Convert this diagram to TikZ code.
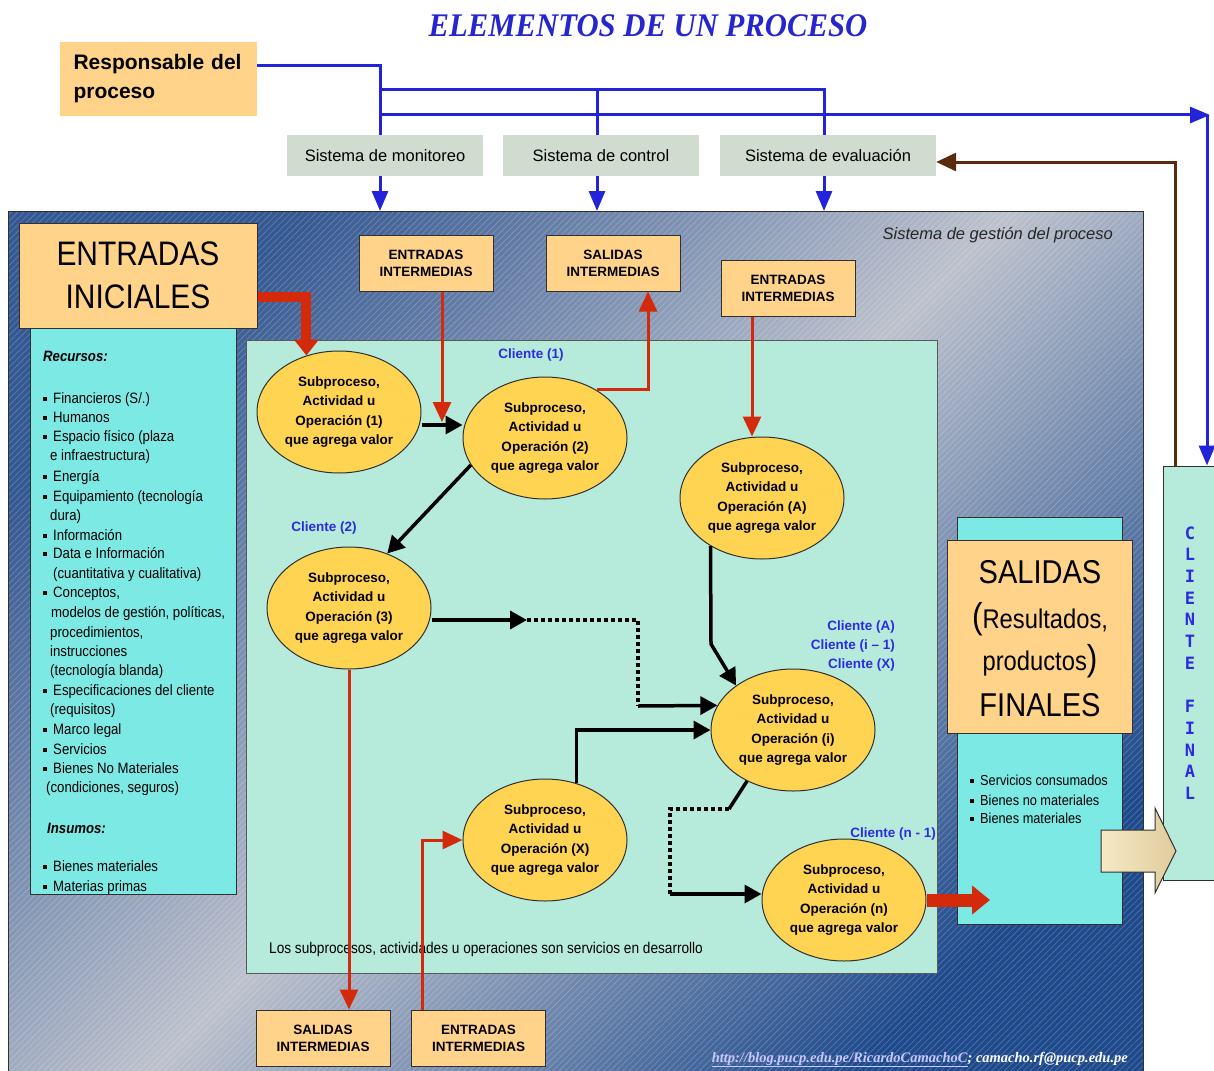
\documentclass[tikz,border=0pt]{standalone}
\usepackage{fontspec}
\setmainfont{Liberation Sans}
\newfontfamily\condfont[FakeStretch=0.88]{Liberation Sans}
\newfontfamily\titlef[FakeStretch=0.93]{Liberation Serif}
\newfontfamily\serifbi{Liberation Serif}
\newfontfamily\monob{DejaVu Sans Mono}
\usetikzlibrary{shapes.geometric, arrows.meta, patterns.meta, calc}
\pgfdeclarelayer{back}
\pgfsetlayers{back,main}

\definecolor{orng}{HTML}{FFD38A}
\definecolor{cyanbox}{HTML}{7DE9E5}
\definecolor{mint}{HTML}{B6EBDC}
\definecolor{yel}{HTML}{FFD452}
\definecolor{redA}{HTML}{D42A0C}
\definecolor{blueL}{HTML}{2323D9}
\definecolor{blueT}{HTML}{2B2BE0}
\definecolor{titleblue}{HTML}{2626CF}
\definecolor{brownA}{HTML}{5B2A0C}
\definecolor{sysg}{HTML}{CFDCCF}
\definecolor{bgtl}{HTML}{345892}
\definecolor{bgbr}{HTML}{1E4A8C}
\definecolor{bggray}{HTML}{BCC1CC}
\definecolor{edge}{HTML}{303030}
\definecolor{linkc}{HTML}{C8C8FF}
\definecolor{beigeL}{HTML}{F5E9C6}
\definecolor{beigeR}{HTML}{E0CC9C}

\newcommand\fsz[2]{\fontsize{#1}{#2}\selectfont}
\newcommand\bul{\makebox[10pt][l]{\rule[2pt]{3.6pt}{3.6pt}}}
\newcommand\proctext[1]{Subproceso,\\Actividad u\\Operación (#1)\\que agrega valor}

\tikzset{
  obox/.style={draw=edge, line width=1pt, fill=orng, inner sep=0pt},
  inter/.style={obox, minimum width=134pt, minimum height=56pt, align=center,
    font=\bfseries\fsz{13.5}{17}},
  sysbox/.style={fill=sysg, minimum height=41pt, inner sep=0pt, font=\fsz{16.5}{20}},
  cyanp/.style={draw=edge, line width=1pt, fill=cyanbox, inner sep=0pt},
  proc/.style={ellipse, draw=edge, line width=1pt, fill=yel, minimum width=164pt,
    minimum height=122pt, inner sep=0pt, align=center, font=\bfseries\fsz{13.5}{19.5}},
  cli/.style={inner sep=0pt, text=blueT, font=\bfseries\fsz{13.5}{16}},
  listtxt/.style={anchor=base west, inner sep=0pt, font=\condfont\fsz{15}{15}},
  bl/.style={draw=blueL, line width=3pt, -{Triangle[length=20pt,width=16pt]}},
  brn/.style={draw=brownA, line width=3pt, -{Triangle[length=20pt,width=18pt]}},
  redthin/.style={draw=redA, line width=3pt, -{Triangle[length=20pt,width=18pt]}},
  redthickA/.style={draw=redA, line width=10pt, -{Triangle[length=16pt,width=24pt]}},
  redthickB/.style={draw=redA, line width=13pt, -{Triangle[length=18pt,width=28pt]}},
  blk/.style={draw=black, line width=3.5pt, -{Triangle[length=17pt,width=18pt]}},
  blkline/.style={draw=black, line width=3.5pt},
  dots/.style={draw=black, line width=3.5pt, dash pattern=on 4pt off 3pt},
}

\begin{document}
\begin{tikzpicture}[x=1pt,y=-1pt]
\useasboundingbox (0,0) rectangle (1214,1070);

% process management frame
\node[inner sep=0pt, minimum width=1134pt, minimum height=866pt] (gest) at (576,645) {};
\begin{pgfonlayer}{back}
  \path[top color=bgtl, bottom color=bgbr, middle color=bggray, shading angle=45]
    (gest.north west) rectangle (gest.south east);
  \path[pattern={Lines[angle=45,distance=4.5pt,line width=0.8pt]}, pattern color=white, opacity=0.2]
    (gest.north west) rectangle (gest.south east);
  \draw[edge, line width=1.2pt] (gest.south west) |- (gest.north east) -- (gest.south east);
\end{pgfonlayer}

% title
\node[anchor=base, inner sep=0pt, text=titleblue, font=\titlef\bfseries\itshape\fsz{33}{33}]
  (title) at (648,37) {ELEMENTOS DE UN PROCESO};

% owner and the three systems
\node[fill=orng, minimum width=197pt, minimum height=74pt, text width=170pt, align=left,
  inner sep=0pt, font=\bfseries\fsz{21}{29}] (resp) at (158.5,79) {Responsable del\\proceso};
\node[sysbox, minimum width=196pt] (mon) at (385,155.5) {Sistema de monitoreo};
\node[sysbox, minimum width=196pt] (ctl) at (601,155.5) {Sistema de control};
\node[sysbox, minimum width=216pt] (evl) at (828,155.5) {Sistema de evaluación};

% final client
\node[draw=edge, line width=1pt, fill=mint, minimum width=57pt, minimum height=414pt, inner sep=0pt]
  (cf) at (1191.5,673) {};
\node[inner sep=0pt, align=center, text=blueT, font=\monob\bfseries\fsz{17}{21.7}]
  (cft) at (1190,663) {C\\L\\I\\E\\N\\T\\E\\\mbox{}\\F\\I\\N\\A\\L};

% control lines from the process owner
\coordinate (vm) at (380,211);
\coordinate (vc) at (597,211);
\coordinate (ve) at (824,211);
\coordinate (j1) at (380,90);
\coordinate (j2) at (380,115);
\coordinate (cr) at (1210,115);
\coordinate (cr2) at (1207,115);
\begin{pgfonlayer}{back}
  \draw[bl] ([yshift=13pt]resp.east) -| (vm);
  \draw[bl] (j1) -| (ve);
  \draw[bl] (j1 -| vc) -- (vc);
  \draw[bl] (j2) -- (cr);
  \draw[bl] (cr2) -- (cr2 |- cf.north);
\end{pgfonlayer}
\draw[brn] ([xshift=-16.5pt]cf.north) |- ([yshift=-6.5pt]evl.east);

\node[anchor=base east, inner sep=0pt, text=black!85, font=\itshape\fsz{16.5}{16.5}]
  (gtxt) at (1113,239) {Sistema de gestión del proceso};

% initial inputs
\node[cyanp, minimum width=206pt, minimum height=568pt] (lst) at (133,610) {};
\node[obox, minimum width=238pt, minimum height=105pt, align=center, font=\condfont\fsz{34}{43}]
  (ein) at (138,275.5) {ENTRADAS\\INICIALES};
\node[listtxt, font=\condfont\bfseries\itshape\fsz{15}{15}] (rec) at (43,361) {Recursos:};
\foreach \yy/\xx/\tx [count=\i] in {
  403/43/{\bul Financieros (S/.)},
  422/43/{\bul Humanos},
  441/43/{\bul Espacio físico (plaza},
  460/50/{e infraestructura)},
  481/43/{\bul Energía},
  501/43/{\bul Equipamiento (tecnología},
  520/50/{dura)},
  540/43/{\bul Información},
  558/43/{\bul Data e Información},
  578/53/{(cuantitativa y cualitativa)},
  597/43/{\bul Conceptos,},
  617/51/{modelos de gestión, políticas,},
  637/50/{procedimientos,},
  656/50/{instrucciones},
  675/50/{(tecnología blanda)},
  695/43/{\bul Especificaciones del cliente},
  714/50/{(requisitos)},
  734/43/{\bul Marco legal},
  754/43/{\bul Servicios},
  773/43/{\bul Bienes No Materiales},
  792/46/{(condiciones, seguros)},
  871/43/{\bul Bienes materiales},
  891/43/{\bul Materias primas}}
  \node[listtxt] (rl\i) at (\xx,\yy) {\tx};
\node[listtxt, font=\condfont\bfseries\itshape\fsz{15}{15}] (ins) at (47,833) {Insumos:};

% process area
\node[draw=edge!80, line width=1pt, fill=mint, minimum width=691pt, minimum height=633pt, inner sep=0pt]
  (cen) at (591.5,656.5) {};

% final outputs
\node[cyanp, minimum width=165pt, minimum height=407pt] (scy) at (1039.5,720.5) {};
\node[obox, minimum width=185pt, minimum height=193pt] (sfin) at (1039.5,636.5) {};
\node[anchor=base, inner sep=0pt, font=\condfont\fsz{33}{33}] (sf1) at (1040,583) {SALIDAS};
\node[anchor=base, inner sep=0pt, font=\condfont\fsz{27}{27}] (sf2) at (1040,628) {{\fsz{36}{36}(}Resultados,};
\node[anchor=base, inner sep=0pt, font=\condfont\fsz{27}{27}] (sf3) at (1040,670) {productos{\fsz{36}{36})}};
\node[anchor=base, inner sep=0pt, font=\condfont\fsz{33}{33}] (sf4) at (1040,716) {FINALES};
\foreach \yy/\tx [count=\i] in {785/Servicios consumados, 805/Bienes no materiales, 823/Bienes materiales}
  \node[listtxt, font=\condfont\fsz{14.5}{14.5}] (so\i) at (970,\yy) {\bul\tx};

% intermediate inputs and outputs
\node[inter] (EI1) at (426,263) {ENTRADAS\\INTERMEDIAS};
\node[inter] (SI1) at (613,263) {SALIDAS\\INTERMEDIAS};
\node[inter] (EI2) at (788,288) {ENTRADAS\\INTERMEDIAS};
\node[inter] (SI2) at (323,1038) {SALIDAS\\INTERMEDIAS};
\node[inter] (EI3) at (478.5,1038) {ENTRADAS\\INTERMEDIAS};

% subprocesses
\node[proc] (E1) at (339,412) {\proctext{1}};
\node[proc] (E2) at (545,438) {\proctext{2}};
\node[proc] (E3) at (349,608) {\proctext{3}};
\node[proc] (EA) at (762,498) {\proctext{A}};
\node[proc] (Ei) at (793,730) {\proctext{i}};
\node[proc] (EX) at (545,840) {\proctext{X}};
\node[proc] (En) at (844,900) {\proctext{n}};

\node[listtxt, font=\condfont\fsz{15.5}{15.5}] (nota) at (269,953)
  {Los subprocesos, actividades u operaciones son servicios en desarrollo};

% material flows (red)
\coordinate (k1) at (442,422);
\coordinate (kE) at (990,900);
\draw[redthickA] ([yshift=-21.5pt]ein.east) -| (E1.120);
\draw[redthin] ([xshift=16pt]EI1.south) -- (k1);
\draw[redthin] (E2.43) -| ([xshift=35pt]SI1.south);
\draw[redthin] ([xshift=-36pt]EI2.south) -- ([xshift=-10pt]EA.north);
\draw[redthin] (E3.south) -- (E3.south |- SI2.north);
\draw[redthin] ([xshift=-56.5pt]EI3.north) |- (EX.west);
\draw[redthickB] (En.east) -- (kE);

% process sequence (black)
\coordinate (d1) at (527,620);
\coordinate (d2) at (638,706);
\coordinate (d3) at (711,644);
\coordinate (d4) at (729,809);
\coordinate (d5) at (670,894);
\draw[blk] ([yshift=-13pt]E1.east) -- ([yshift=13pt]E2.west);
\draw[blk] (E2.200) -- (E3.55);
\draw[blk] ([yshift=-12pt]E3.east) -- (d1);
\draw[dots] (d1) -| (d2);
\draw[blk] (d2) -- (Ei.162);
\draw[blk] (EA.223) -- (d3) -- (Ei.142);
\draw[blk] (EX.61) |- (Ei.west);
\draw[blkline] (Ei.228) -- (d4);
\draw[dots] (d4) -| (d5);
\draw[blk] (d5) -- ([yshift=6pt]En.west);

% internal clients
\node[cli] (c1) at (531,355) {Cliente (1)};
\node[cli] (c2) at (324,528) {Cliente (2)};
\node[cli, anchor=base east] (cA) at (895,630) {Cliente (A)};
\node[cli, anchor=base east] (cI) at (895,649) {Cliente (i – 1)};
\node[cli, anchor=base east] (cX) at (895,668) {Cliente (X)};
\node[cli, anchor=base east] (cN) at (936,837) {Cliente (n - 1)};

% delivery to the final client
\path[draw=edge, line width=1pt, left color=beigeL, right color=beigeR]
  (1101,830) -- (1155,830) -- (1155,808) -- (1176,851) -- (1155,893) -- (1155,872) -- (1101,872) -- cycle;

\node[anchor=base east, inner sep=0pt, font=\serifbi\bfseries\itshape\fsz{14.5}{14.5}] (url) at (1128,1062)
  {\textcolor{linkc}{\underline{http://blog.pucp.edu.pe/RicardoCamachoC}}\textcolor{white}{; camacho.rf@pucp.edu.pe}};
\end{tikzpicture}
\end{document}
